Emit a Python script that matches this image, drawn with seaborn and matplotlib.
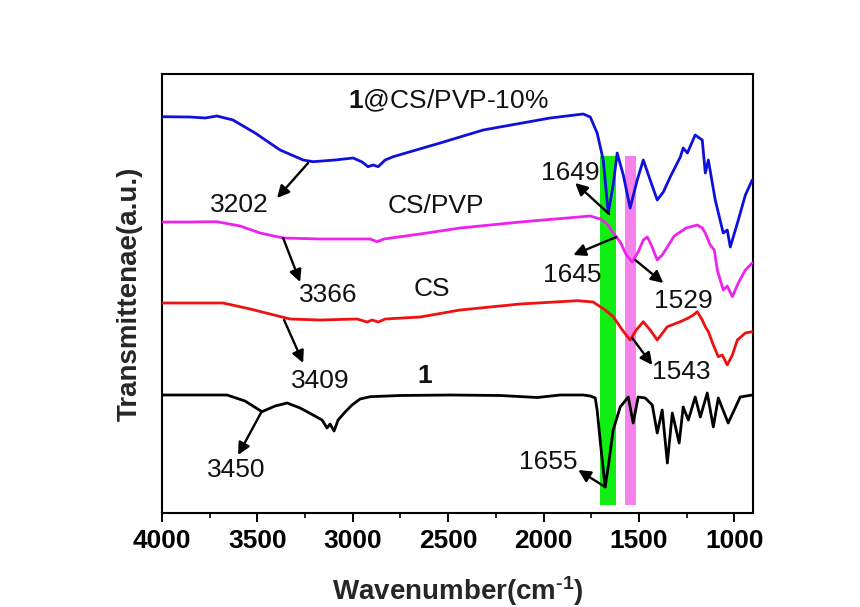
import numpy as np
import pandas as pd
import matplotlib
matplotlib.use("Agg")
import matplotlib.pyplot as plt
import seaborn as sns

# ---------------- data ----------------
wn_1 = [4000, 3659, 3565, 3476, 3407, 3344, 3276, 3208, 3161, 3135, 3119, 3098, 3077, 3040, 3004,
        2962, 2909, 2752, 2490, 2227, 2033, 1913, 1792, 1755, 1729, 1719, 1698, 1677, 1661, 1635,
        1598, 1556, 1530, 1504, 1467, 1430, 1404, 1378, 1351, 1325, 1289, 1268, 1241, 1205, 1178,
        1142, 1110, 1084, 1032, 969, 906]
t_1 = [118, 118, 112, 101.3, 107, 110, 105, 98, 93, 85, 89, 82, 93, 101, 108,
       114, 116.3, 117.5, 118, 117.5, 115.5, 118, 118, 117, 115, 103, 63, 26, 46, 83,
       106, 116, 90, 116, 115, 108, 80, 103, 50, 100, 70, 106, 93, 116, 96,
       120, 86, 115, 90, 116, 118]

wn_cs = [4000, 3680, 3538, 3329, 3171, 2977, 2925, 2899, 2867, 2830, 2647, 2437, 2122, 1823, 1740,
         1677, 1635, 1587, 1546, 1514, 1477, 1441, 1404, 1351, 1283, 1241, 1215, 1194, 1168, 1152,
         1136, 1110, 1084, 1063, 1037, 1010, 984, 942, 906]
t_cs = [210, 210, 204, 194, 193, 194, 191, 193, 191, 194, 196, 203, 209, 212.3, 211,
        203, 196.3, 183, 173, 183, 191.3, 183, 173, 186.3, 191.3, 195, 198, 201.3, 193, 186.3,
        181.3, 168, 156.3, 158, 148, 158, 173, 180, 181.3]

wn_cspvp = [4000, 3853, 3712, 3591, 3486, 3365, 3171, 2962, 2909, 2872, 2836, 2647, 2437, 2122, 1755,
            1703, 1666, 1635, 1598, 1566, 1535, 1504, 1477, 1456, 1435, 1404, 1378, 1351, 1315, 1268,
            1253, 1194, 1168, 1152, 1126, 1105, 1089, 1058, 1037, 1010, 979, 942, 906]
t_cspvp = [291, 291, 291.3, 287, 280, 275, 274, 274, 274, 271.3, 274, 279, 285, 291, 297,
           294, 289, 280, 271, 258, 251, 261, 273, 276, 268, 253, 258, 266, 277, 283,
           285, 288, 285, 280, 268, 263, 243, 223, 227, 216.3, 230, 243, 250]

wn_comp = [4000, 3853, 3774, 3712, 3628, 3512, 3381, 3260, 3208, 3093, 2998, 2951, 2920, 2893, 2867,
           2830, 2788, 2542, 2316, 1965, 1792, 1755, 1719, 1687, 1661, 1635, 1614, 1582, 1546, 1509,
           1477, 1441, 1404, 1372, 1336, 1283, 1268, 1246, 1205, 1168, 1152, 1136, 1100, 1058, 1037,
           1021, 979, 942, 906]
t_comp = [396.3, 396, 395, 397, 393, 380, 363, 353, 351.3, 353, 355, 351, 346.3, 348, 346.3,
          353, 356.3, 370, 383, 395, 399, 396, 380, 353, 300, 328, 360, 338, 305, 333,
          353, 333, 313, 321, 336, 356, 365, 360, 378, 373, 340, 353, 313, 280, 283,
          266, 293, 318, 333]

series_names = ["1", "CS", "CS/PVP", "1@CS/PVP-10%"]
series_colors = ["#000000", "#ee1111", "#ee22ee", "#1010dd"]

# highlighted bands (wavenumber ranges)
band_ranges = [(1703, 1619), (1572, 1514)]
band_colors = ["#11ee11", "#f582ec"]

# peak annotations: label, curve point (tail), arrow head, text position
peak_labels = ["3202", "3366", "3409", "3450", "1649", "1645", "1529", "1543", "1655"]
peak_tail = [(3234, 350), (3365, 275), (3360, 193), (3476, 102), (1656, 299),
             (1619, 276), (1519, 253), (1535, 175), (1677, 26)]
peak_head = [(3397, 315), (3276, 231), (3260, 150), (3601, 58), (1834, 330),
             (1844, 258), (1372, 230), (1430, 148), (1818, 43)]
peak_text = [(3596, 308), (3129, 218), (3171, 132), (3612, 43), (1860, 340),
             (1850, 238), (1267, 212), (1278, 141), (1975, 51)]

curve_labels = [r"$\mathbf{1}$@CS/PVP-10%", "CS/PVP", "CS", "1"]
curve_label_pos = [(2500, 412), (2563, 307), (2584, 224), (2621, 137)]
curve_label_bold = [False, False, False, True]

# ---------------- plotting ----------------
sns.set_theme(style="white")
plt.rcParams["font.family"] = ["Liberation Sans", "DejaVu Sans"]
plt.rcParams["mathtext.fontset"] = "custom"
plt.rcParams["mathtext.rm"] = "Liberation Sans"
plt.rcParams["mathtext.bf"] = "Liberation Sans:bold"
plt.rcParams["mathtext.it"] = "Liberation Sans:italic"
plt.rcParams["axes.unicode_minus"] = False

frames = []
for name, x, y in zip(series_names, [wn_1, wn_cs, wn_cspvp, wn_comp], [t_1, t_cs, t_cspvp, t_comp]):
    frames.append(pd.DataFrame({"wn": x, "T": y, "sample": name}))
df = pd.concat(frames, ignore_index=True)

fig = plt.figure(figsize=(8.6, 6.07), dpi=100)
ax = fig.add_axes([162 / 860, 1 - 513 / 607, (753 - 162) / 860, (513 - 74) / 607])

ymin, ymax = 0, 439
for (a, b), c in zip(band_ranges, band_colors):
    ax.axvspan(a, b, ymin=8 / 439, ymax=357 / 439, color=c, lw=0, zorder=1)

sns.lineplot(data=df, x="wn", y="T", hue="sample", palette=dict(zip(series_names, series_colors)),
             estimator=None, sort=False, lw=2.0, legend=False, ax=ax, zorder=3)

for lab, tail, head, tp in zip(peak_labels, peak_tail, peak_head, peak_text):
    ax.annotate("", xy=head, xytext=tail,
                arrowprops=dict(arrowstyle="-|>", color="black", lw=1.7, mutation_scale=18,
                                shrinkA=0, shrinkB=0), zorder=4)
    ax.text(tp[0], tp[1], lab, fontsize=19, ha="center", va="center", color="#111111", zorder=5)

for lab, pos, bold in zip(curve_labels, curve_label_pos, curve_label_bold):
    ax.text(pos[0], pos[1], lab, fontsize=19, ha="center", va="center",
            fontweight="bold" if bold else "normal", color="#111111", zorder=5)

ax.set_xlim(4000, 902)
ax.set_ylim(ymin, ymax)
ax.set_xticks([4000, 3500, 3000, 2500, 2000, 1500, 1000])
ax.set_xticks([3750, 3250, 2750, 2250, 1750, 1250], minor=True)
ax.set_yticks([])
ax.tick_params(axis="x", which="major", direction="out", length=6.5, width=1.4, pad=5,
               labelsize=19, bottom=True, top=False, colors="black")
ax.tick_params(axis="x", which="minor", direction="out", length=3.5, width=1.4, bottom=True, top=False)
for lbl in ax.get_xticklabels():
    lbl.set_fontweight("bold")
for s in ax.spines.values():
    s.set_color("black")
    s.set_linewidth(1.5)
    s.set_visible(True)

ax.set_xlabel("Wavenumber(cm$^{\\mathbf{\u2010 1}}$)".replace("\u2010 ", "\u2010"),
              fontsize=20, fontweight="bold", labelpad=15)
ax.set_ylabel("Transmittenae(a.u.)", fontsize=20, fontweight="bold", labelpad=14)
ax.grid(False)

fig.savefig("out.png", dpi=100, facecolor="white")
